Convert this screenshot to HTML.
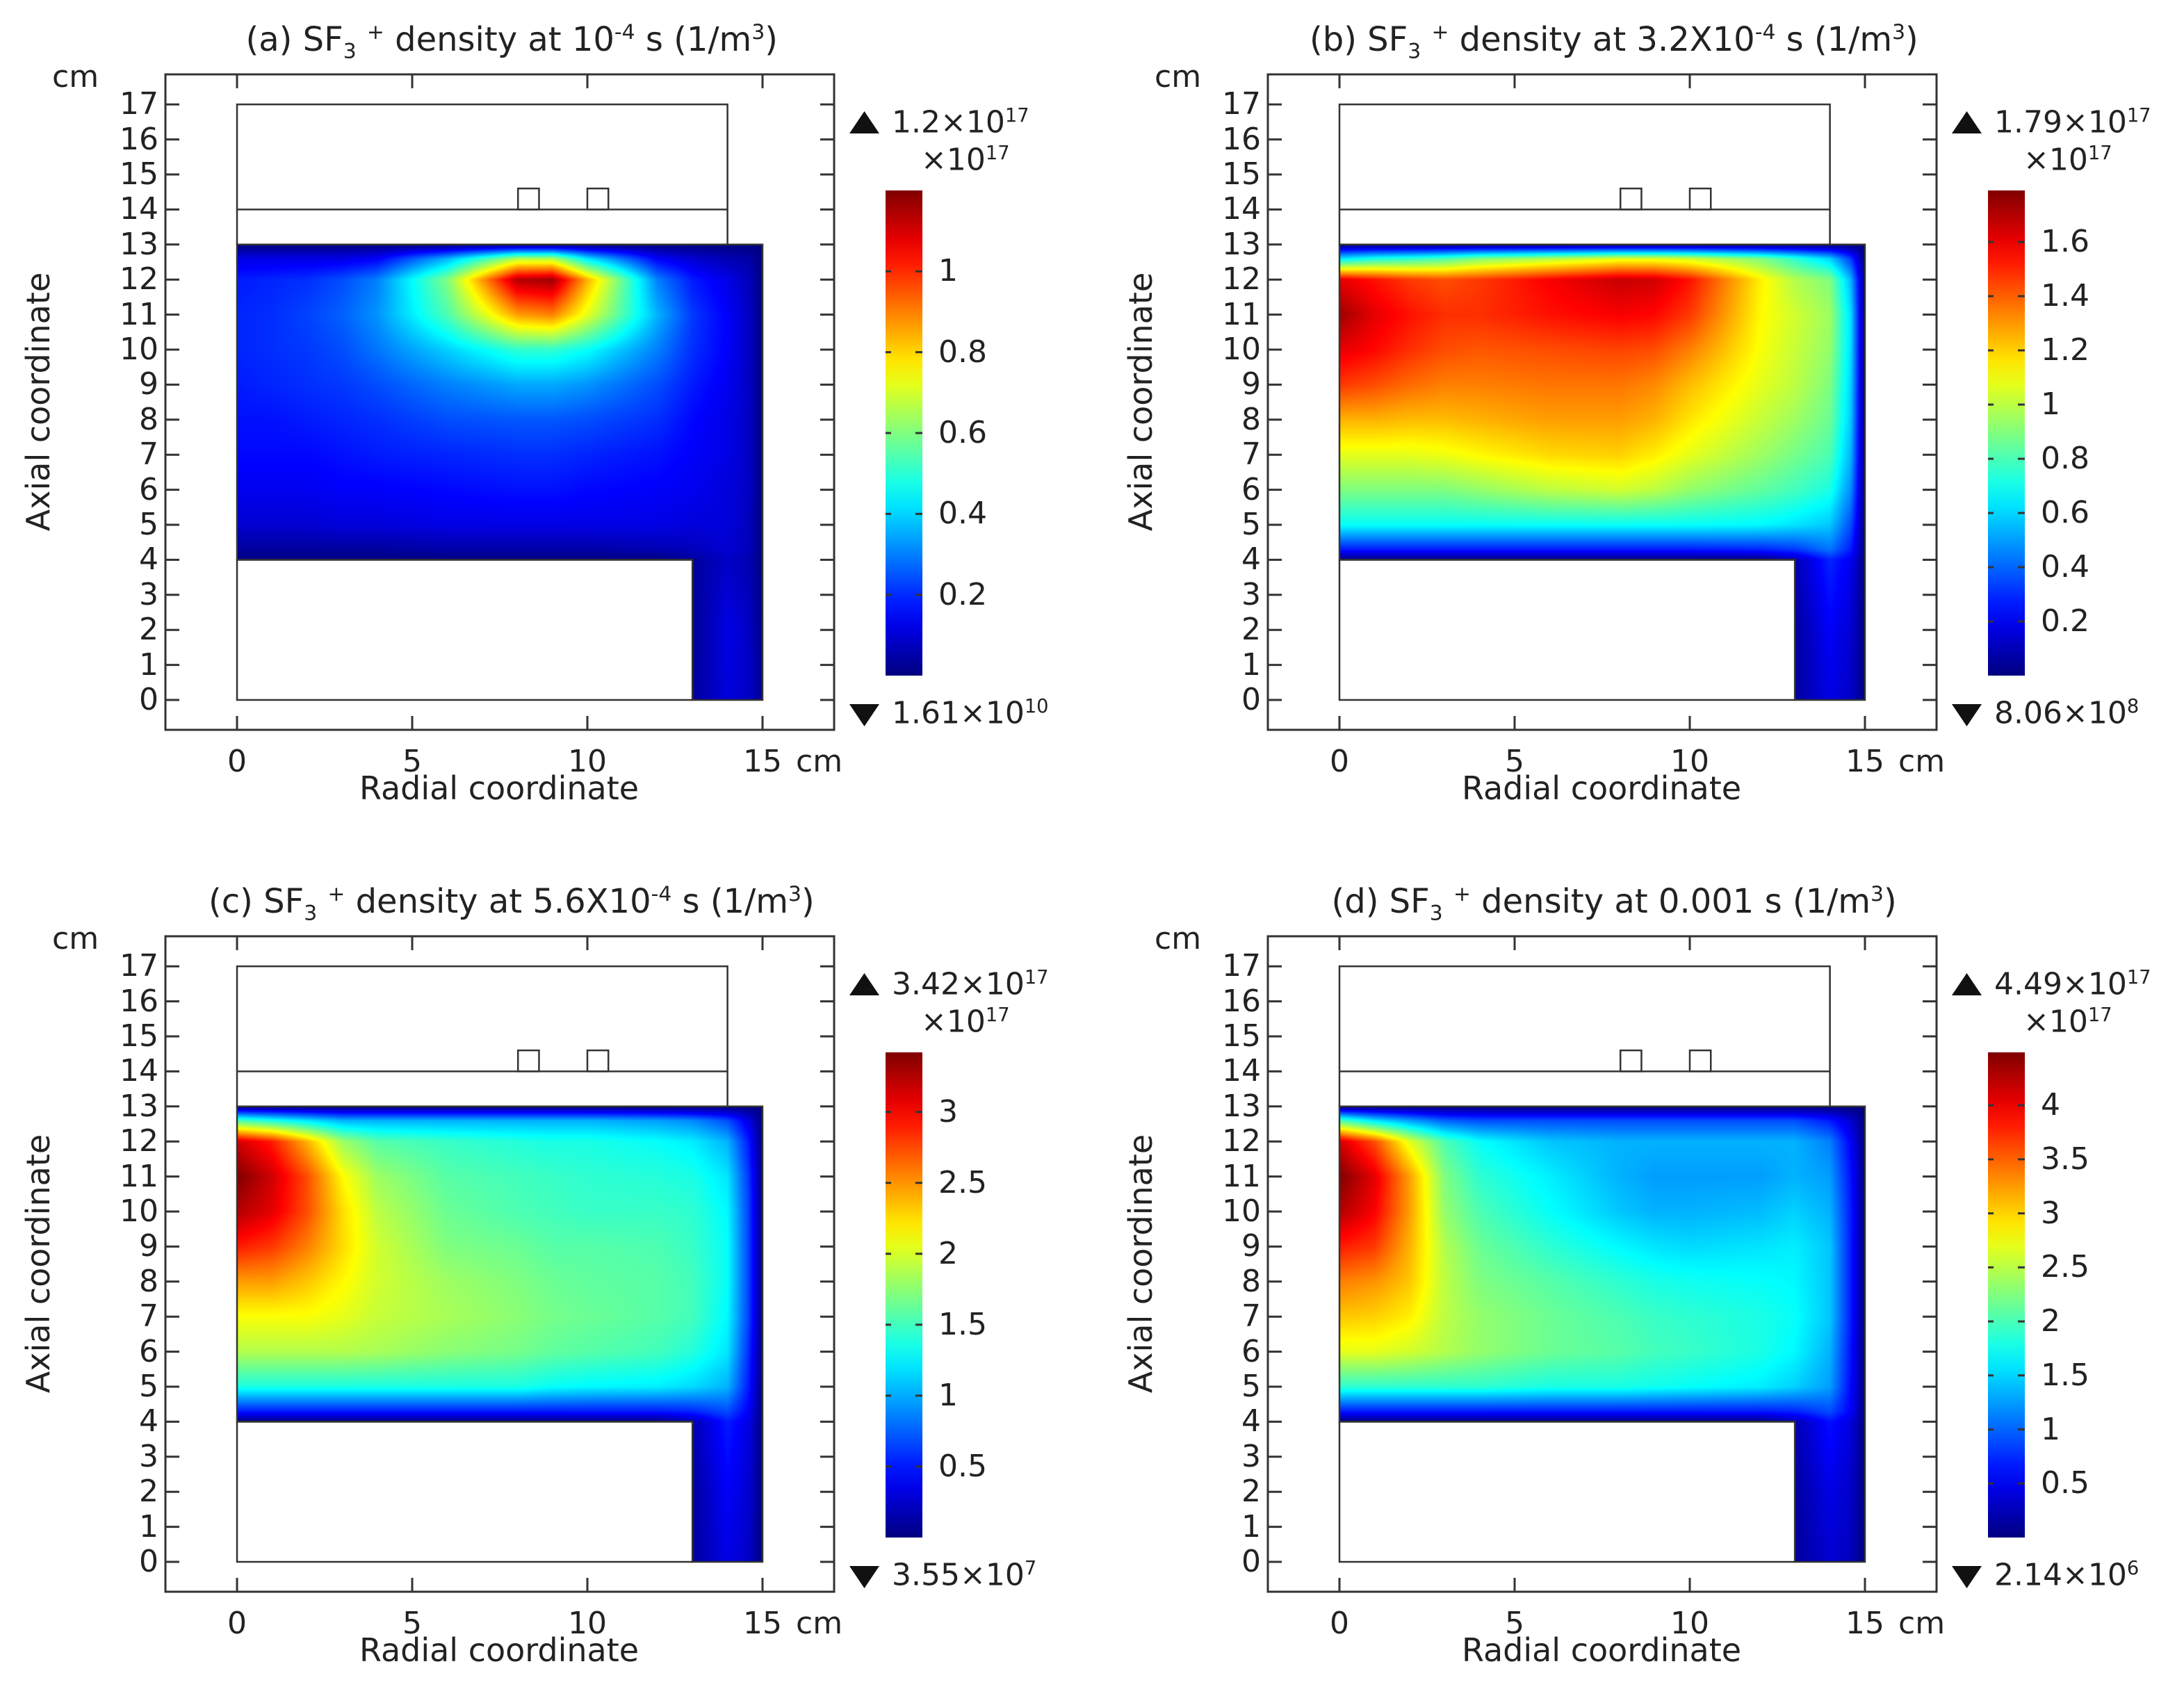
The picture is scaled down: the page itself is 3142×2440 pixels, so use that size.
<!DOCTYPE html>
<html><head><meta charset="utf-8">
<style>
html,body{margin:0;padding:0;background:#fff;}
body{width:3142px;height:2427px;position:relative;overflow:hidden;font-family:"DejaVu Sans","Liberation Sans",sans-serif;color:#222;}
.panel{position:absolute;width:1570px;height:1200px;}
.panel canvas{position:absolute;}
.panel svg{position:absolute;left:0;top:0;}
.t{position:absolute;white-space:nowrap;line-height:1;font-size:44px;}
.t sup,.t sub{font-size:0.62em;}
.ttl{font-size:48px;}
.ax{font-size:46px;}
</style></head>
<body>
<script>
// ---- Data ----
const XS=[0,1,2,3,4,6,8,9,10,12,13,14,14.6,15];
const YS=[0,2,4,4.3,5,6,7,8,9,10,11,12,12.6,13];
const titles=[
 '(a) SF<sub>3</sub> <sup>+</sup> density at 10<sup>-4</sup> s (1/m<sup>3</sup>)',
 '(b) SF<sub>3</sub> <sup>+</sup> density at 3.2X10<sup>-4</sup> s (1/m<sup>3</sup>)',
 '(c) SF<sub>3</sub> <sup>+</sup> density at 5.6X10<sup>-4</sup> s (1/m<sup>3</sup>)',
 '(d) SF<sub>3</sub> <sup>+</sup> density at 0.001 s (1/m<sup>3</sup>)'];
const maxVals=[1.2,1.79,3.42,4.49];
const maxLabels=['1.2×10<sup>17</sup>','1.79×10<sup>17</sup>','3.42×10<sup>17</sup>','4.49×10<sup>17</sup>'];
const minLabels=['1.61×10<sup>10</sup>','8.06×10<sup>8</sup>','3.55×10<sup>7</sup>','2.14×10<sup>6</sup>'];
const cbTicksA=[0.2,0.4,0.6,0.8,1];
const cbTicksB=[0.2,0.4,0.6,0.8,1,1.2,1.4,1.6];
const cbTicksC=[0.5,1,1.5,2,2.5,3];
const cbTicksD=[0.5,1,1.5,2,2.5,3,3.5,4];
const yTicks=[0,1,2,3,4,5,6,7,8,9,10,11,12,13,14,15,16,17];
const xTicks=[0,5,10,15];
// normalized density grids (fraction of max), rows bottom->top following YS, cols following XS
const gridA=[
[0,0,0,0,0,0,0,0,0,0,.03,.09,.07,.02],
[0,0,0,0,0,0,0,0,0,0,.02,.1,.07,.01],
[0,0,0,0,0,0,0,0,0,0,.03,.07,.05,0],
[.03,.03,.03,.03,.03,.04,.04,.04,.04,.05,.06,.08,.06,0],
[.08,.08,.08,.09,.09,.1,.1,.1,.1,.1,.09,.09,.06,0],
[.11,.11,.11,.12,.12,.13,.14,.14,.13,.12,.11,.09,.07,0],
[.13,.13,.13,.14,.15,.16,.17,.17,.16,.14,.12,.1,.07,0],
[.14,.14,.15,.16,.17,.2,.21,.21,.2,.17,.13,.1,.07,0],
[.15,.16,.17,.18,.2,.25,.29,.29,.27,.2,.15,.11,.07,0],
[.16,.17,.18,.2,.24,.33,.42,.42,.38,.25,.17,.12,.07,0],
[.16,.17,.19,.22,.27,.45,.72,.75,.6,.3,.18,.12,.07,0],
[.15,.16,.17,.2,.25,.5,.95,.97,.7,.25,.15,.1,.06,0],
[.1,.1,.1,.1,.12,.3,.55,.55,.35,.12,.08,.05,.04,0],
[0,0,0,0,0,0,0,0,0,0,0,0,0,0]];
const gridB=[
[0,0,0,0,0,0,0,0,0,0,.03,.1,.07,0],
[0,0,0,0,0,0,0,0,0,0,.03,.12,.08,0],
[0,0,0,0,0,0,0,0,0,0,.05,.16,.11,0],
[.15,.15,.15,.15,.15,.15,.15,.15,.15,.16,.18,.24,.15,0],
[.38,.38,.38,.38,.38,.38,.38,.38,.38,.37,.35,.32,.2,0],
[.5,.5,.5,.5,.52,.56,.58,.56,.52,.47,.44,.4,.26,0],
[.6,.6,.6,.61,.63,.66,.67,.64,.6,.53,.49,.45,.3,0],
[.7,.7,.69,.69,.7,.72,.72,.7,.65,.57,.53,.48,.32,0],
[.82,.8,.77,.75,.75,.76,.76,.74,.69,.6,.56,.5,.33,0],
[.9,.87,.83,.8,.79,.8,.81,.8,.75,.62,.57,.52,.34,0],
[.97,.9,.86,.83,.83,.86,.88,.87,.82,.63,.58,.53,.34,0],
[.9,.86,.82,.8,.82,.88,.93,.92,.86,.64,.55,.5,.3,0],
[.35,.4,.42,.45,.5,.55,.6,.6,.58,.5,.42,.33,.18,0],
[0,0,0,0,0,0,0,0,0,0,0,0,0,0]];
const gridC=[
[0,0,0,0,0,0,0,0,0,0,.03,.1,.07,0],
[0,0,0,0,0,0,0,0,0,0,.03,.12,.08,0],
[0,0,0,0,0,0,0,0,0,0,.05,.15,.1,0],
[.15,.15,.15,.15,.15,.15,.15,.15,.15,.15,.16,.2,.12,0],
[.4,.4,.4,.4,.4,.4,.4,.38,.37,.36,.34,.3,.15,0],
[.55,.55,.55,.55,.54,.51,.49,.47,.46,.44,.41,.35,.17,0],
[.62,.62,.62,.6,.57,.54,.51,.49,.48,.46,.44,.37,.19,0],
[.72,.72,.68,.63,.58,.53,.5,.48,.47,.46,.44,.38,.19,0],
[.85,.82,.75,.66,.58,.5,.48,.46,.46,.45,.43,.38,.19,0],
[.95,.9,.8,.66,.56,.48,.45,.44,.43,.43,.42,.37,.19,0],
[1,.92,.8,.63,.53,.46,.44,.43,.42,.41,.4,.35,.18,0],
[.92,.85,.7,.53,.46,.43,.41,.4,.4,.38,.36,.3,.15,0],
[.45,.4,.35,.3,.3,.3,.3,.3,.3,.28,.26,.2,.1,0],
[0,0,0,0,0,0,0,0,0,0,0,0,0,0]];
const gridD=[
[0,0,0,0,0,0,0,0,0,0,.03,.08,.06,0],
[0,0,0,0,0,0,0,0,0,0,.03,.1,.07,0],
[0,0,0,0,0,0,0,0,0,0,.05,.14,.09,0],
[.15,.15,.15,.15,.15,.15,.15,.15,.15,.15,.16,.2,.12,0],
[.42,.42,.42,.42,.42,.4,.4,.39,.38,.36,.33,.28,.13,0],
[.6,.6,.58,.55,.52,.48,.46,.44,.43,.4,.37,.3,.14,0],
[.68,.67,.64,.56,.52,.48,.45,.43,.42,.4,.38,.32,.15,0],
[.75,.73,.68,.56,.5,.46,.42,.4,.39,.38,.37,.32,.15,0],
[.85,.82,.7,.55,.48,.42,.37,.35,.34,.35,.36,.32,.15,0],
[.95,.88,.72,.52,.45,.38,.32,.3,.3,.31,.33,.3,.15,0],
[1,.9,.72,.5,.42,.36,.3,.28,.28,.28,.3,.28,.14,0],
[.92,.8,.6,.45,.38,.32,.3,.3,.3,.3,.3,.25,.12,0],
[.45,.35,.28,.22,.2,.2,.2,.2,.2,.2,.2,.15,.08,0],
[0,0,0,0,0,0,0,0,0,0,0,0,0,0]];
</script>
<script>
const grids=[gridA,gridB,gridC,gridD];
const cbTicks=[cbTicksA,cbTicksB,cbTicksC,cbTicksD];
const offsets=[[0,0],[1586,0],[0,1240],[1586,1240]];
const NS="http://www.w3.org/2000/svg";
const S=50.4;
function X(v){return 341+v*S;}
function Y(v){return 1007-v*S;}
const CB_TOP=274,CB_BOT=972;
function CBY(v,m){return CB_BOT-(v/m)*(CB_BOT-CB_TOP);}
function clamp(a){return Math.max(0,Math.min(1,a));}
function jet(t){return [clamp(1.5-Math.abs(4*t-3)),clamp(1.5-Math.abs(4*t-2)),clamp(1.5-Math.abs(4*t-1))];}
function seg(arr,v){for(let i=0;i<arr.length-2;i++){if(v<arr[i+1])return i;}return arr.length-2;}
function sv(tag,attrs,parent){const e=document.createElementNS(NS,tag);for(const k in attrs)e.setAttribute(k,attrs[k]);parent.appendChild(e);return e;}
function txt(parent,html,left,cy,anchor,cls){
  const d=document.createElement('div');d.className='t'+(cls?' '+cls:'');d.innerHTML=html;parent.appendChild(d);
  const w=d.offsetWidth,h=d.offsetHeight;
  let l=left; if(anchor==='middle')l=left-w/2; else if(anchor==='end')l=left-w;
  d.style.left=l+'px';d.style.top=(cy-h/2)+'px';return d;
}
const names=['a','b','c','d'];
for(let p=0;p<4;p++){
  const panel=document.createElement('div');panel.className='panel';
  
  
  panel.style.left=offsets[p][0]+'px';panel.style.top=offsets[p][1]+'px';
  document.body.appendChild(panel);
  const cv=document.createElement('canvas');
  
  
  const W=Math.round(15*S),H=Math.round(13*S);
  cv.width=W;cv.height=H;cv.style.left=X(0)+'px';cv.style.top=Y(13)+'px';
  panel.appendChild(cv);
  const ctx=cv.getContext('2d');const img=ctx.createImageData(W,H);const G=grids[p];
  for(let py=0;py<H;py++){
    const y=13-(py+0.5)/S;const j=seg(YS,y);const fy=clamp((y-YS[j])/(YS[j+1]-YS[j]));
    for(let px=0;px<W;px++){
      const x=(px+0.5)/S;if(x<13&&y<4)continue;
      const i=seg(XS,x);const fx=clamp((x-XS[i])/(XS[i+1]-XS[i]));
      const v=(G[j][i]*(1-fx)+G[j][i+1]*fx)*(1-fy)+(G[j+1][i]*(1-fx)+G[j+1][i+1]*fx)*fy;
      const c=jet(v);const k=(py*W+px)*4;
      img.data[k]=c[0]*255;img.data[k+1]=c[1]*255;img.data[k+2]=c[2]*255;img.data[k+3]=255;
    }
  }
  ctx.putImageData(img,0,0);
  const svg=document.createElementNS(NS,'svg');svg.setAttribute('width',1570);svg.setAttribute('height',1200);
  
  
  panel.appendChild(svg);
  const frame=sv('rect',{x:238,y:107,width:962,height:943,fill:'none',stroke:'#333','stroke-width':3},svg);
  
  
  for(const v of yTicks){
    const t1=sv('line',{x1:238,x2:258,y1:Y(v),y2:Y(v),stroke:'#333','stroke-width':3},svg);
    
    
    const t2=sv('line',{x1:1180,x2:1200,y1:Y(v),y2:Y(v),stroke:'#333','stroke-width':3},svg);
    
    
    const lb=txt(panel,String(v),228,Y(v),'end');
    
    
  }
  for(const v of xTicks){
    const t1=sv('line',{x1:X(v),x2:X(v),y1:107,y2:127,stroke:'#333','stroke-width':3},svg);
    
    
    const t2=sv('line',{x1:X(v),x2:X(v),y1:1030,y2:1050,stroke:'#333','stroke-width':3},svg);
    
    
    const lb=txt(panel,String(v),X(v),1096,'middle');
    
    
  }
  const xcm=txt(panel,'cm',X(15)+48,1096,'start');
  
  
  const gs={fill:'none',stroke:'#333','stroke-width':2.5};
  const up=sv('rect',Object.assign({x:X(0),y:Y(17),width:14*S,height:4*S},gs),svg);
  
  
  const l14=sv('line',Object.assign({x1:X(0),x2:X(14),y1:Y(14),y2:Y(14)},gs),svg);
  
  
  for(const cx of [8.02,10.0]){
    const sq=sv('rect',Object.assign({x:X(cx),y:Y(14.6),width:0.6*S,height:0.6*S},gs),svg);
    
    
  }
  const pl=sv('polygon',Object.assign({points:[X(0),Y(4),X(0),Y(13),X(15),Y(13),X(15),Y(0),X(13),Y(0),X(13),Y(4)].join(' ')},gs),svg);
  
  
  const bt=sv('rect',Object.assign({x:X(0),y:Y(4),width:13*S,height:4*S},gs),svg);
  
  
  const gid='jetgrad'+p;
  const defs=sv('defs',{},svg);
  const lg=sv('linearGradient',{id:gid,x1:0,y1:1,x2:0,y2:0},defs);
  for(let k=0;k<=20;k++){const c=jet(k/20);sv('stop',{offset:(k/20),'stop-color':'rgb('+Math.round(c[0]*255)+','+Math.round(c[1]*255)+','+Math.round(c[2]*255)+')'},lg);}
  const cb=sv('rect',{x:1274,y:CB_TOP,width:53,height:CB_BOT-CB_TOP,fill:'url(#'+gid+')'},svg);
  
  
  for(const v of cbTicks[p]){
    const yy=CBY(v,maxVals[p]);
    const t=sv('line',{x1:1317,x2:1327,y1:yy,y2:yy,stroke:'#333','stroke-width':3},svg);
    
    
    const t0=sv('line',{x1:1274,x2:1282,y1:yy,y2:yy,stroke:'#333','stroke-width':3},svg);
    
    
    const lb=txt(panel,String(v),1350,yy,'start');
    
    
  }
  const up3=sv('polygon',{points:'1222,192 1265,192 1243.5,160',fill:'#111'},svg);
  
  
  const dn3=sv('polygon',{points:'1222,1013 1265,1013 1243.5,1045',fill:'#111'},svg);
  
  
  const mx=txt(panel,maxLabels[p],1283,176,'start');
  
  
  const mn=txt(panel,minLabels[p],1283,1026,'start');
  
  
  const sc=txt(panel,'×10<sup>17</sup>',1325,230,'start');
  
  
  const ti=txt(panel,titles[p],736,60,'middle','ttl');
  
  
  const cm=txt(panel,'cm',75,111,'start');
  
  
  const xl=txt(panel,'Radial coordinate',718,1134,'middle','ax');
  
  
  const yl=txt(panel,'Axial coordinate',55,578,'middle','ax');
  
  
  yl.style.transform='rotate(-90deg)';
}
</script>
</body></html>
